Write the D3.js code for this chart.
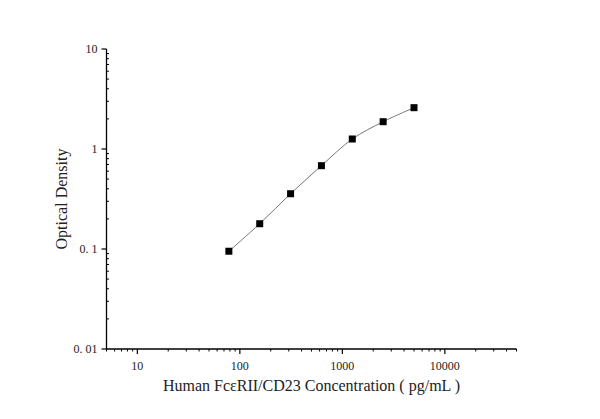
<!DOCTYPE html>
<html>
<head>
<meta charset="utf-8">
<script src="https://cdn.jsdelivr.net/npm/d3@7"></script>
<style>
body { margin: 0; background: #fff; }
svg text { font-family: "Liberation Serif", "DejaVu Serif", serif; fill: #222; }
</style>
</head>
<body>
<div id="chart"></div>
<script>
// standard curve points
const concentration = [78.125, 156.25, 312.5, 625, 1250, 2500, 5000];
const density = [0.095, 0.179, 0.357, 0.681, 1.259, 1.875, 2.59];

const xTicks = [10, 100, 1000, 10000];
const xTickLabels = ["10", "100", "1000", "10000"];
const yTicks = [0.01, 0.1, 1, 10];
const yTickLabels = ["0. 01", "0. 1", "1", "10"];

const W = 600, H = 419;
const plotLeft = 106.5, plotRight = 516.5, plotTop = 49, plotBottom = 349;

const svg = d3.select("#chart")
    .append("svg")
    .attr("width", W)
    .attr("height", H);

const x = d3.scaleLog().domain([5, 50000]).range([plotLeft, plotRight]);
const y = d3.scaleLog().domain([0.01, 10]).range([plotBottom, plotTop]);

// minor ticks: every integer multiple inside each decade
function minorTicks(lo, hi) {
    const out = [];
    for (let p = Math.floor(Math.log10(lo)); p <= Math.ceil(Math.log10(hi)); p++) {
        for (let k = 2; k <= 9; k++) {
            const v = k * Math.pow(10, p);
            if (v >= lo && v <= hi) out.push(v);
        }
    }
    return out;
}

const g = svg.append("g");

// x axis
g.append("line")
    .attr("x1", plotLeft).attr("x2", plotRight)
    .attr("y1", plotBottom).attr("y2", plotBottom)
    .attr("stroke", "#000").attr("stroke-width", 1.3);
g.selectAll(".xminor").data(minorTicks(5, 50000)).enter().append("line")
    .attr("x1", d => x(d)).attr("x2", d => x(d))
    .attr("y1", plotBottom).attr("y2", plotBottom + 2.5)
    .attr("stroke", "#000").attr("stroke-width", 1);
g.selectAll(".xmajor").data(xTicks).enter().append("line")
    .attr("x1", d => x(d)).attr("x2", d => x(d))
    .attr("y1", plotBottom).attr("y2", plotBottom + 5)
    .attr("stroke", "#000").attr("stroke-width", 1.2);
g.selectAll(".xlab").data(xTicks).enter().append("text")
    .attr("x", d => x(d))
    .attr("y", plotBottom + 21)
    .attr("text-anchor", "middle")
    .attr("font-size", 12)
    .text((d, i) => xTickLabels[i]);

// y axis
g.append("line")
    .attr("x1", plotLeft).attr("x2", plotLeft)
    .attr("y1", plotTop).attr("y2", plotBottom)
    .attr("stroke", "#000").attr("stroke-width", 1.3);
g.selectAll(".yminor").data(minorTicks(0.01, 10)).enter().append("line")
    .attr("x1", plotLeft).attr("x2", plotLeft + 2.5)
    .attr("y1", d => y(d)).attr("y2", d => y(d))
    .attr("stroke", "#000").attr("stroke-width", 1);
g.selectAll(".ymajor").data(yTicks).enter().append("line")
    .attr("x1", plotLeft - 5).attr("x2", plotLeft)
    .attr("y1", d => y(d)).attr("y2", d => y(d))
    .attr("stroke", "#000").attr("stroke-width", 1.2);
g.selectAll(".ylab").data(yTicks).enter().append("text")
    .attr("x", plotLeft - 9)
    .attr("y", d => y(d) + 4)
    .attr("text-anchor", "end")
    .attr("font-size", 12)
    .text((d, i) => yTickLabels[i]);

// titles
svg.append("text")
    .attr("x", (plotLeft + plotRight) / 2)
    .attr("y", 391)
    .attr("text-anchor", "middle")
    .attr("font-size", 16)
    .text("Human FcεRII/CD23 Concentration ( pg/mL )");
svg.append("text")
    .attr("transform", "translate(67," + ((plotTop + plotBottom) / 2) + ") rotate(-90)")
    .attr("text-anchor", "middle")
    .attr("font-size", 16)
    .text("Optical Density");

// fitted curve
const pts = concentration.map((c, i) => [c, density[i]]);
const line = d3.line()
    .x(d => x(d[0]))
    .y(d => y(d[1]))
    .curve(d3.curveCatmullRom.alpha(0.5));
svg.append("path")
    .datum(pts)
    .attr("d", line)
    .attr("fill", "none")
    .attr("stroke", "#777")
    .attr("stroke-width", 1);

// points
const s = 7;
svg.selectAll(".pt").data(pts).enter().append("rect")
    .attr("x", d => x(d[0]) - s / 2)
    .attr("y", d => y(d[1]) - s / 2)
    .attr("width", s)
    .attr("height", s)
    .attr("fill", "#000");
</script>
</body>
</html>
